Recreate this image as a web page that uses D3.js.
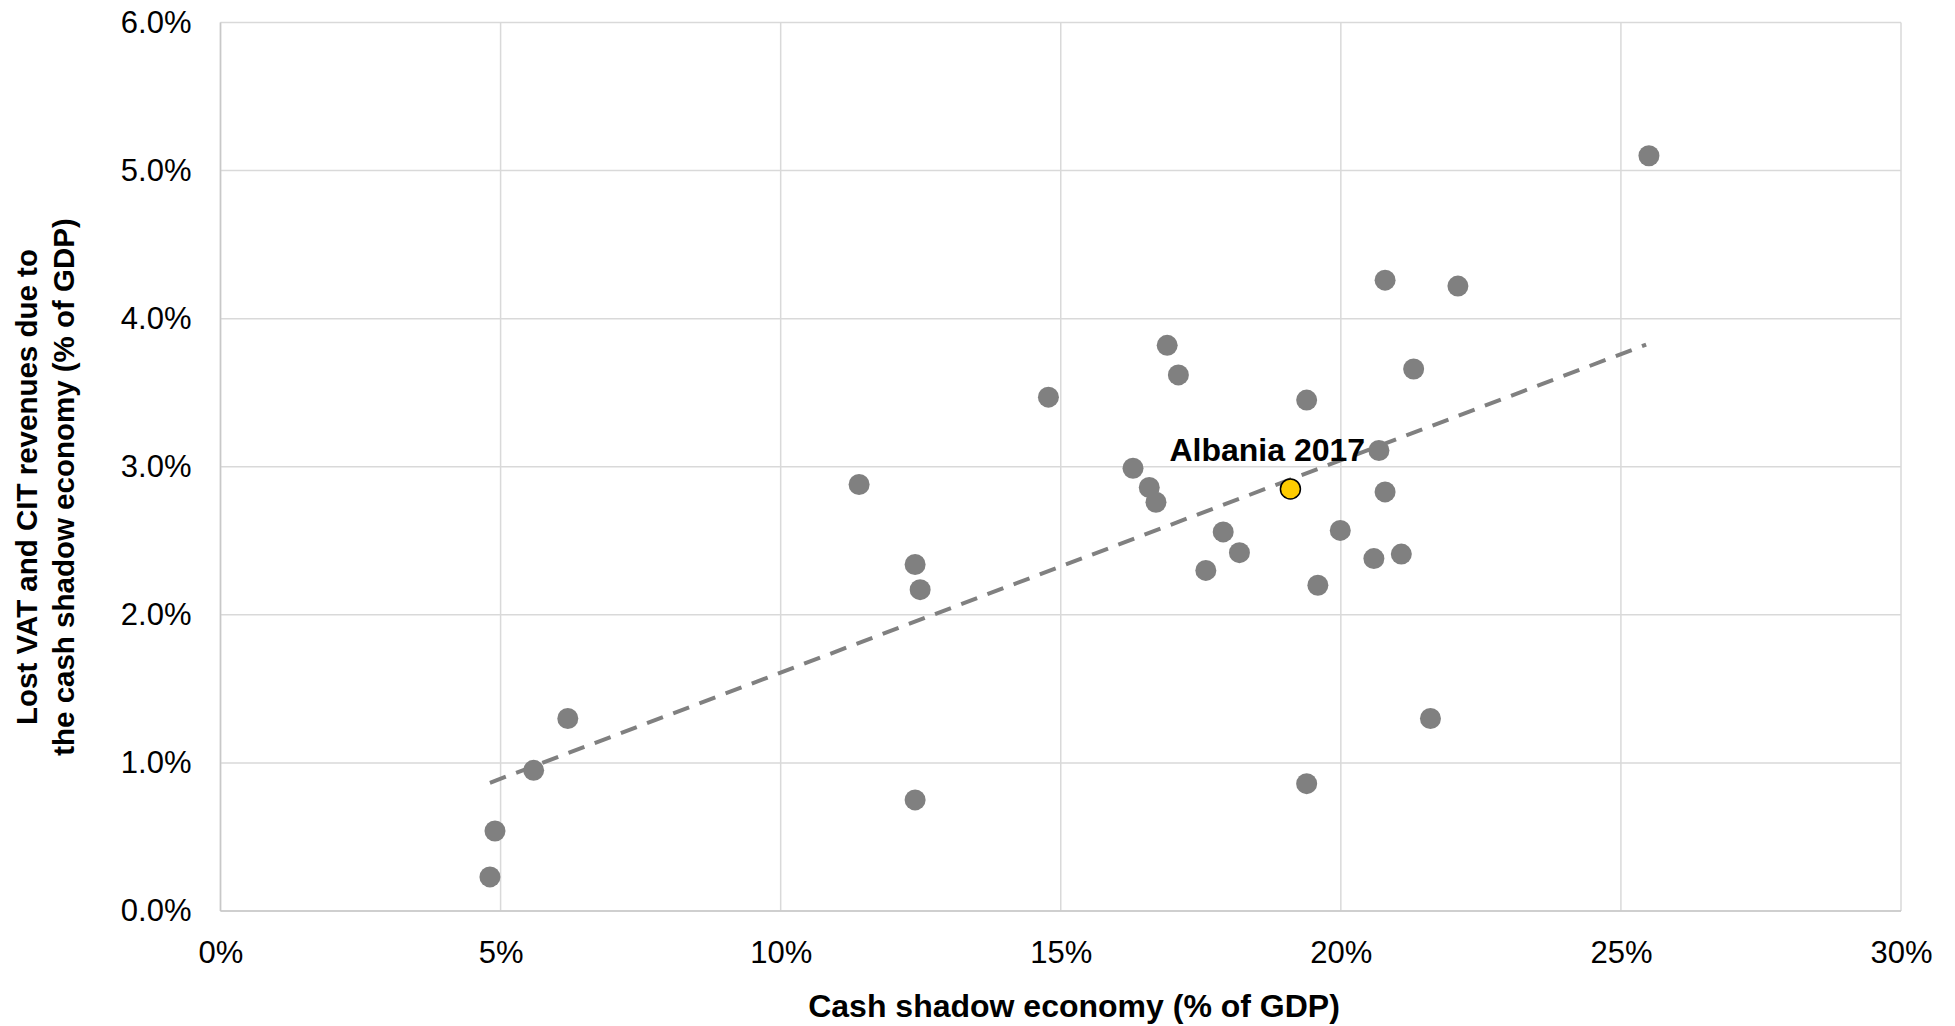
<!DOCTYPE html>
<html>
<head>
<meta charset="utf-8">
<script src="https://cdn.jsdelivr.net/npm/d3@7"></script>
<style>
  html, body { margin: 0; padding: 0; background: #ffffff; }
  svg { display: block; font-family: "Liberation Sans", Arial, sans-serif; }
</style>
</head>
<body>
<svg id="chart" width="1955" height="1026"></svg>
<script>
// ---- data (values in percent of GDP) ----
const cashShadow = [4.81, 4.90, 5.59, 6.20, 11.40, 12.40, 12.49, 12.40, 14.78, 16.29,
                    16.58, 16.70, 16.90, 17.10, 17.59, 17.90, 18.19, 19.39, 19.59, 19.39,
                    19.99, 20.59, 20.68, 20.79, 20.79, 21.08, 21.30, 21.60, 22.09, 25.50];
const lostRevenue = [0.23, 0.54, 0.95, 1.30, 2.88, 2.34, 2.17, 0.75, 3.47, 2.99,
                     2.86, 2.76, 3.82, 3.62, 2.30, 2.56, 2.42, 3.45, 2.20, 0.86,
                     2.57, 2.38, 3.11, 4.26, 2.83, 2.41, 3.66, 1.30, 4.22, 5.10];
const albaniaLabel = "Albania 2017";
const albaniaX = 19.10;
const albaniaY = 2.85;
const trendX = [4.81, 25.45];
const trendY = [0.866, 3.825];
const xTicks = [0, 5, 10, 15, 20, 25, 30];
const yTicks = [0, 1, 2, 3, 4, 5, 6];
const xTitle = "Cash shadow economy (% of GDP)";
const yTitleLines = ["Lost VAT and CIT revenues due to", "the cash shadow economy (% of GDP)"];

// ---- layout ----
const svg = d3.select("#chart");
const pLeft = 220.5, pRight = 1901, pTop = 22.5, pBottom = 911;

const x = d3.scaleLinear().domain([0, 30]).range([pLeft, pRight]);
const y = d3.scaleLinear().domain([0, 6]).range([pBottom, pTop]);

// gridlines
const grid = svg.append("g");
grid.selectAll("line.v").data(xTicks).join("line")
  .attr("x1", d => x(d)).attr("x2", d => x(d))
  .attr("y1", pTop).attr("y2", pBottom)
  .attr("stroke", "#d9d9d9").attr("stroke-width", 1.5);
grid.selectAll("line.h").data(yTicks).join("line")
  .attr("x1", pLeft).attr("x2", pRight)
  .attr("y1", d => y(d)).attr("y2", d => y(d))
  .attr("stroke", "#d9d9d9").attr("stroke-width", 1.5);

// axes lines
svg.append("line").attr("x1", pLeft).attr("x2", pRight).attr("y1", pBottom).attr("y2", pBottom)
  .attr("stroke", "#c8c8c8").attr("stroke-width", 1.5);
svg.append("line").attr("x1", pLeft).attr("x2", pLeft).attr("y1", pTop).attr("y2", pBottom)
  .attr("stroke", "#c8c8c8").attr("stroke-width", 1.5);

// axes via d3
const xAxis = d3.axisBottom(x).tickValues(xTicks).tickFormat(d => d + "%").tickSize(0).tickPadding(30);
const gx = svg.append("g").attr("transform", `translate(0,${pBottom})`).call(xAxis);
gx.select(".domain").remove();
gx.selectAll("text").attr("font-size", 31).attr("fill", "#000")
  .attr("font-family", "Liberation Sans, Arial, sans-serif");

const yAxis = d3.axisLeft(y).tickValues(yTicks).tickFormat(d => d.toFixed(1) + "%").tickSize(0).tickPadding(29);
const gy = svg.append("g").attr("transform", `translate(${pLeft},0)`).call(yAxis);
gy.select(".domain").remove();
gy.selectAll("text").attr("font-size", 31).attr("fill", "#000")
  .attr("font-family", "Liberation Sans, Arial, sans-serif");

// trend line
const pts = trendX.map((d, i) => [d, trendY[i]]);
svg.append("path")
  .attr("d", d3.line().x(d => x(d[0])).y(d => y(d[1]))(pts))
  .attr("fill", "none").attr("stroke", "#808080").attr("stroke-width", 4)
  .attr("stroke-dasharray", "17,11");

// points
const data = cashShadow.map((d, i) => ({ x: d, y: lostRevenue[i] }));
svg.append("g").selectAll("circle").data(data).join("circle")
  .attr("cx", d => x(d.x)).attr("cy", d => y(d.y)).attr("r", 10.5)
  .attr("fill", "#808080");

// Albania
svg.append("circle").attr("cx", x(albaniaX)).attr("cy", y(albaniaY)).attr("r", 10)
  .attr("fill", "#ffcc00").attr("stroke", "#000").attr("stroke-width", 1.5);
svg.append("text").attr("x", x(albaniaX) - 121).attr("y", y(albaniaY) - 28)
  .attr("font-size", 32).attr("font-weight", "bold").attr("fill", "#000")
  .text(albaniaLabel);

// axis titles
svg.append("text").attr("x", 1074).attr("y", 1017).attr("text-anchor", "middle")
  .attr("font-size", 32).attr("font-weight", "bold").attr("fill", "#000").text(xTitle);

const yt = svg.append("text").attr("transform", "translate(0,487) rotate(-90)")
  .attr("text-anchor", "middle").attr("font-size", 29.5).attr("font-weight", "bold").attr("fill", "#000");
yTitleLines.forEach((t, i) => {
  yt.append("tspan").attr("x", 0).attr("y", 37 + i * 37).text(t);
});
</script>
</body>
</html>
